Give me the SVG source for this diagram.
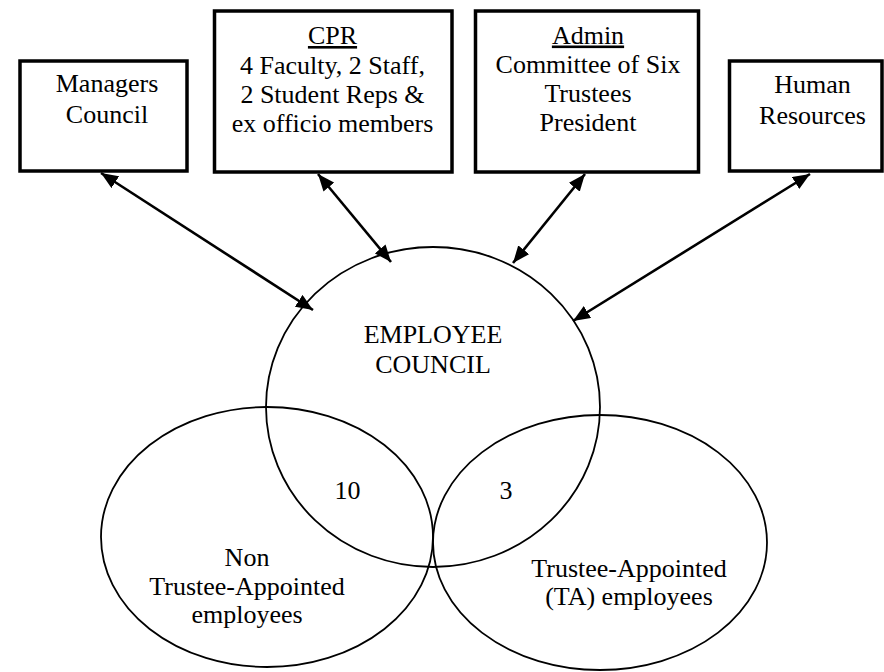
<svg xmlns="http://www.w3.org/2000/svg" width="884" height="672" viewBox="0 0 884 672">
  <style>
    .box { fill: #ffffff; stroke: #000000; stroke-width: 3.5; }
    .ell { fill: none; stroke: #000000; stroke-width: 1.8; }
    .t { font-family: 'Liberation Serif', 'DejaVu Serif', serif; font-size: 26px; fill: #000000; text-anchor: middle; }
    .u { text-decoration: underline; }
    .conn { stroke: #000000; stroke-width: 2.6; fill: none; marker-start: url(#ah); marker-end: url(#ah); }
  </style>
  <defs>
    <marker id="ah" markerUnits="userSpaceOnUse" markerWidth="18" markerHeight="14" refX="17" refY="7" orient="auto-start-reverse">
      <path d="M0,0 L17,7 L0,14 Z" fill="#000000"/>
    </marker>
  </defs>
  <rect x="0" y="0" width="884" height="672" fill="#ffffff"/>

  <g id="managers-council">
    <rect class="box" x="20" y="61" width="167" height="110"/>
    <text class="t" x="107" y="92">Managers</text>
    <text class="t" x="107" y="123">Council</text>
  </g>

  <g id="cpr">
    <rect class="box" x="214.5" y="11" width="237.5" height="161"/>
    <text class="t u" x="332.5" y="44">CPR</text>
    <text class="t" x="332.5" y="73.5">4 Faculty, 2 Staff,</text>
    <text class="t" x="332.5" y="103">2 Student Reps &amp;</text>
    <text class="t" x="332.5" y="132">ex officio members</text>
  </g>

  <g id="admin">
    <rect class="box" x="475.5" y="11" width="223" height="161"/>
    <text class="t u" x="588" y="43.5">Admin</text>
    <text class="t" x="588" y="72.5">Committee of Six</text>
    <text class="t" x="588" y="101.5">Trustees</text>
    <text class="t" x="588" y="130.5">President</text>
  </g>

  <g id="human-resources">
    <rect class="box" x="729.5" y="61" width="152.5" height="110"/>
    <text class="t" x="812.5" y="93">Human</text>
    <text class="t" x="812.5" y="124">Resources</text>
  </g>

  <g id="employee-council">
    <ellipse class="ell" cx="433" cy="407" rx="167" ry="160"/>
    <text class="t" x="433" y="343">EMPLOYEE</text>
    <text class="t" x="433" y="373">COUNCIL</text>
  </g>

  <g id="non-ta-employees">
    <ellipse class="ell" cx="267" cy="537" rx="166" ry="130"/>
    <text class="t" x="247" y="566">Non</text>
    <text class="t" x="247" y="595">Trustee-Appointed</text>
    <text class="t" x="247" y="623">employees</text>
  </g>

  <g id="ta-employees">
    <ellipse class="ell" cx="600" cy="542.5" rx="167" ry="127.5"/>
    <text class="t" x="629" y="577">Trustee-Appointed</text>
    <text class="t" x="629" y="605">(TA) employees</text>
  </g>

  <g id="overlap-non-ta">
    <text class="t" x="347.5" y="499">10</text>
  </g>

  <g id="overlap-ta">
    <text class="t" x="506" y="499">3</text>
  </g>

  <g id="connectors">
    <line class="conn" x1="101" y1="173" x2="313" y2="310"/>
    <line class="conn" x1="318" y1="174" x2="391" y2="262"/>
    <line class="conn" x1="585" y1="174" x2="513" y2="263"/>
    <line class="conn" x1="810" y1="174" x2="573" y2="321"/>
  </g>
</svg>
